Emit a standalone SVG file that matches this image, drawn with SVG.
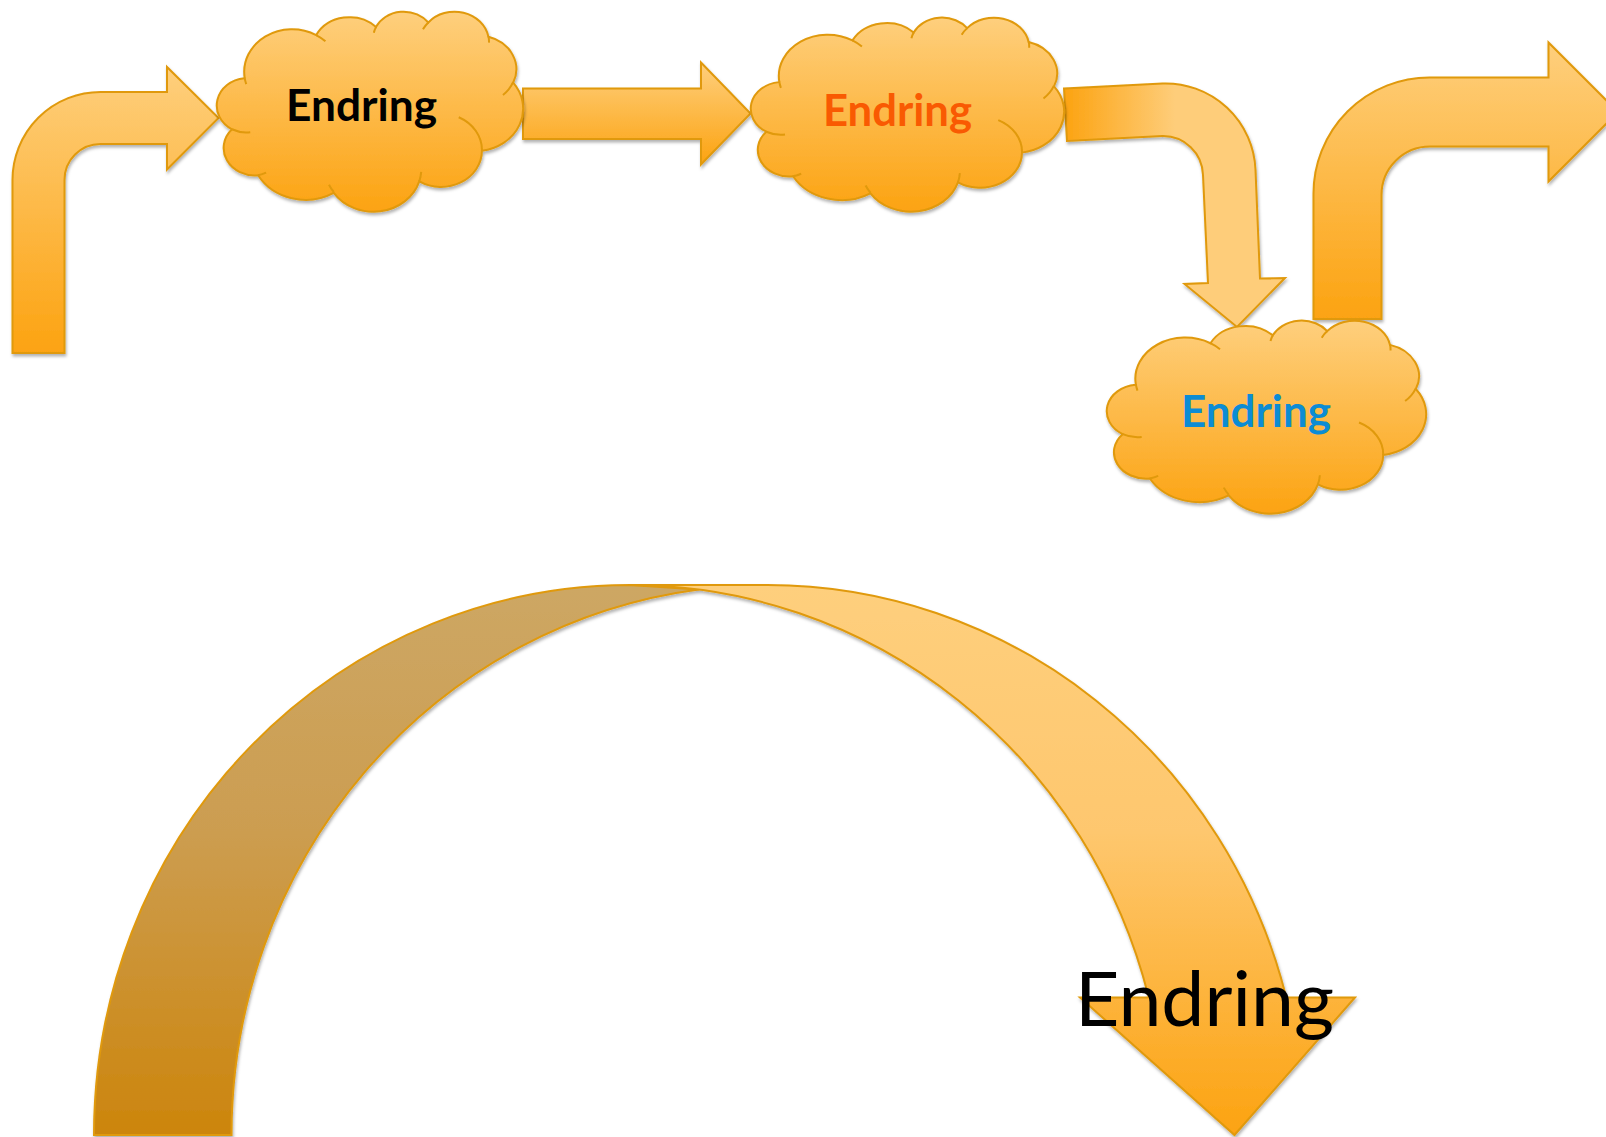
<svg xmlns="http://www.w3.org/2000/svg" xmlns:xlink="http://www.w3.org/1999/xlink" width="1606" height="1137" viewBox="0 0 1606 1137">
<style>
.shape{stroke:#E0990A;stroke-width:2;stroke-linejoin:miter}
.cl{fill:url(#gV);stroke:#E0990A;stroke-width:2}
.cll{fill:none;stroke:#E0990A;stroke-width:2}
.lbl{font-family:Lato,'Liberation Sans',sans-serif;font-weight:bold;font-size:43px}
</style>
<defs>
<linearGradient id="gV" x1="0" y1="0" x2="0" y2="1">
<stop offset="0" stop-color="#FECF7D"/><stop offset="1" stop-color="#FCA311"/>
</linearGradient>
<linearGradient id="gH" gradientUnits="userSpaceOnUse" x1="1064" y1="0" x2="1175" y2="0">
<stop offset="0" stop-color="#FCA311"/><stop offset="1" stop-color="#FECD7A"/>
</linearGradient>
<linearGradient id="gDark" gradientUnits="userSpaceOnUse" x1="0" y1="585" x2="0" y2="1135">
<stop offset="0" stop-color="#CDA764"/><stop offset="0.45" stop-color="#CC9D50"/><stop offset="1" stop-color="#CC850C"/>
</linearGradient>
<linearGradient id="gLight" gradientUnits="userSpaceOnUse" x1="0" y1="585" x2="0" y2="1135">
<stop offset="0" stop-color="#FECF7D"/><stop offset="0.45" stop-color="#FEC76E"/><stop offset="1" stop-color="#FCA311"/>
</linearGradient>
<filter id="sh" x="-10%" y="-10%" width="120%" height="125%">
<feDropShadow dx="1" dy="2.5" stdDeviation="1.6" flood-color="#000" flood-opacity="0.3"/>
</filter>
<path id="cloudShape" vector-effect="non-scaling-stroke" d="M3900 14370A6753 9190 0 0 1 14005 5201A5333 7267 0 0 1 22456 3431A4365 5945 0 0 1 29833 2479A4857 6595 0 0 1 38319 5572A5333 7273 0 0 1 41820 15456A6775 9220 0 0 1 37405 30200A5785 7867 0 0 1 28556 36811A6752 9215 0 0 1 16482 39264A7720 10543 0 0 1 5805 35471A4360 5918 0 0 1 2115 25547A4345 5945 0 0 1 3865 14503Z"/>
<path id="cloudLines" vector-effect="non-scaling-stroke" d="M4693 26177A4345 5945 0 0 1 2115 25547M6928 34899A4360 5918 0 0 1 5805 35471M16478 39090A6752 9215 0 0 1 15813 37522M28827 34751A6752 9215 0 0 1 28556 36811M34129 22954A5785 7867 0 0 1 37405 30200M41798 15354A5333 7273 0 0 1 40371 18133M38324 5426A4857 6595 0 0 1 38396 6836M29078 3952A4857 6595 0 0 1 29833 2479M22141 4720A4365 5945 0 0 1 22456 3431M14000 5192A6753 9190 0 0 1 15305 6550M4127 15789A6753 9190 0 0 1 3900 14370"/>
</defs>
<rect width="1606" height="1137" fill="#FFFFFF"/>

<g id="connectors" filter="url(#sh)">
<path id="arrow1" class="shape" fill="url(#gV)" d="M12.5,353 L12.5,180 A88,88 0 0 1 100.5,92 L167,92 L167,67 L218.5,118 L167,169.5 L167,144 L100.5,144 A36,36 0 0 0 64.5,180 L64.5,353 Z"/>
<path id="arrow2" class="shape" fill="url(#gV)" d="M523,88.5 L701,88.5 L701,62.5 L750.5,113.5 L701,164.5 L701,139 L523,139 Z"/>
<path id="arrow3" class="shape" fill="url(#gH)" d="M1064,88.5 L1162.5,83.5 A90,90 0 0 1 1255.5,170 L1260,278.5 L1285,278 L1237,327 L1184.5,284 L1208,283 L1203,175 A40,40 0 0 0 1162.5,136 L1067,141 Z"/>
<path id="arrow4" class="shape" fill="url(#gV)" d="M1313.5,319 L1313.5,193.5 A116,116 0 0 1 1429.5,77.5 L1548.5,77.5 L1548.5,42.5 L1618,112 L1548.5,181.5 L1548.5,146.5 L1430,146.5 A48.5,48.5 0 0 0 1381.5,195 L1381.5,319 Z"/>
</g>

<g id="node-cloud1">
<g filter="url(#sh)"><g transform="translate(217,11) scale(0.0070833,0.0046296)"><use href="#cloudShape" class="cl"/><use href="#cloudLines" class="cll"/></g></g>
<text class="lbl" x="286" y="121" fill="#000000" textLength="151" lengthAdjust="spacingAndGlyphs">Endring</text>
</g>

<g id="node-cloud2">
<g filter="url(#sh)"><g transform="translate(751,17) scale(0.0072454,0.0044907)"><use href="#cloudShape" class="cl"/><use href="#cloudLines" class="cll"/></g></g>
<text class="lbl" x="823" y="126" fill="#F95A02" textLength="149" lengthAdjust="spacingAndGlyphs">Endring</text>
</g>

<g id="node-cloud3">
<g filter="url(#sh)"><g transform="translate(1107,320) scale(0.0073843,0.0044676)"><use href="#cloudShape" class="cl"/><use href="#cloudLines" class="cll"/></g></g>
<text class="lbl" x="1181" y="427" fill="#0C8CD4" textLength="150" lengthAdjust="spacingAndGlyphs">Endring</text>
</g>

<g id="node-curved-arrow">
<g filter="url(#sh)">
<path class="shape" stroke-width="1.6" fill="url(#gDark)" d="M94,1135 A535.9,550 0 0 1 629.9,585 L698.65,589.5 A535.9,550 0 0 0 231.5,1135 Z"/>
<path class="shape" stroke-width="1.6" fill="url(#gLight)" d="M629.9,585 L767.4,585 A535.9,550 0 0 1 1286.3,997.5 L1355,997.5 L1234.5,1135 L1080,997.5 L1148.8,997.5 A535.9,550 0 0 0 629.9,585 Z"/>
</g>
<text x="1075" y="1026" font-family="Lato,'Liberation Sans',sans-serif" font-size="75" fill="#000000" textLength="259" lengthAdjust="spacingAndGlyphs">Endring</text>
</g>
</svg>
